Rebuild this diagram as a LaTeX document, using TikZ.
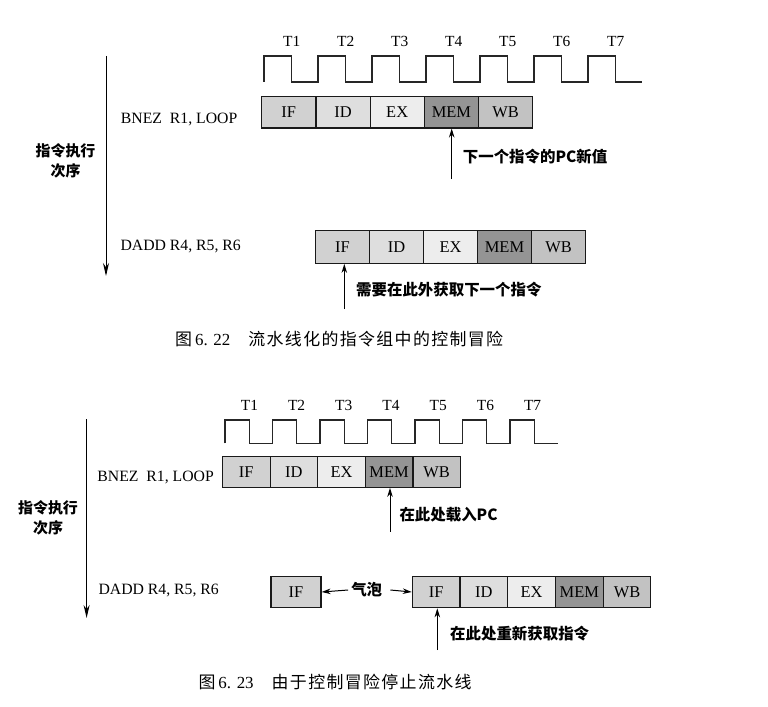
\documentclass[tikz,border=0pt]{standalone}
\usepackage{fontspec}
\setmainfont{Liberation Serif}
\newfontfamily\cjk{Noto Sans CJK SC}
\newfontfamily\capcjk[LetterSpace=8]{Noto Sans CJK SC}
\usetikzlibrary{arrows.meta}
\definecolor{cIF}{gray}{0.82}
\definecolor{cID}{gray}{0.87}
\definecolor{cEX}{gray}{0.93}
\definecolor{cMEM}{gray}{0.58}
\definecolor{cWB}{gray}{0.76}

\begin{document}
\begin{tikzpicture}[x=1bp,y=-1bp,>={Stealth[length=9bp,width=5.5bp]},
  stage/.style={draw=black!90,line width=1.2bp,inner sep=0pt,font=\fontsize{16.5}{16.5}\selectfont},
  clk/.style={line width=1.1bp,draw=black!85},
  tlbl/.style={font=\fontsize{15.5}{16}\selectfont,inner sep=0pt,anchor=base},
  instr/.style={font=\fontsize{15.8}{16}\selectfont,anchor=east,inner sep=0pt},
  note/.style={font=\cjk\bfseries\fontsize{15.5}{16}\selectfont,anchor=west,inner sep=0pt},
  order/.style={font=\cjk\bfseries\fontsize{15}{20}\selectfont,align=center,inner sep=0pt},
  figcap/.style={font=\fontsize{17}{17}\selectfont,anchor=west,inner sep=0pt},
  axis/.style={line width=1bp,-{Stealth[length=13bp,width=6bp]}},
  pc/.style={->,line width=1bp}]
  \fill[white] (0,0) rectangle (768,707);
  \useasboundingbox (0,0) rectangle (768,707);

  % ---------- figure 6.22 ----------
  \draw[clk] (264,82) \foreach \k in {0,...,6} { -- ++(0,-26) -- ++(27.5,0) -- ++(0,26) -- ++(26.5,0) };
  \foreach \k in {1,...,7}
    \node[tlbl] (ta\k) at (291.7+54*\k-54,46.3) {T\k};

  \foreach \s [count=\k from 0] in {IF,ID,EX,MEM,WB}
    \node[stage,fill=c\s,minimum width=54.2bp,minimum height=31.3bp] (a\s) at (288.8+54.2*\k,112.3) {\s};
  \foreach \s [count=\k from 0] in {IF,ID,EX,MEM,WB}
    \node[stage,fill=c\s,minimum width=54bp,minimum height=32.6bp] (b\s) at (342.5+54*\k,247) {\s};

  \node[instr] (ia) at (237.5,119) {BNEZ\ \ R1, LOOP};
  \node[instr] (ib) at (241,246) {DADD R4, R5, R6};

  \coordinate (ordA) at (106,56);
  \coordinate (ordB) at (106,276);
  \draw[axis] (ordA) -- (ordB);
  \node[order] (oa) at (65.5,160.5) {指令执行\\次序};

  \coordinate (pa) at (451.7,179);
  \draw[pc] (pa) -- (pa |- aMEM.south);
  \node[note] (na) at (462.7,157) {下一个指令的PC新值};
  \coordinate (pb) at (344.3,309);
  \draw[pc] (pb) -- (pb |- bIF.south);
  \node[note] (nb) at (356,290) {需要在此外获取下一个指令};

  \node[figcap] (capa) at (175,339.3) {{\capcjk 图}\hspace{3bp}6.\,\,22\hspace{18bp}{\capcjk 流水线化的指令组中的控制冒险}};

  % ---------- figure 6.23 ----------
  \draw[clk] (225,443.3) \foreach \k in {0,...,6} { -- ++(0,-23.3) -- ++(24.2,0) -- ++(0,23.3) -- ++(23.3,0) };
  \foreach \k in {1,...,7}
    \node[tlbl] (tb\k) at (249.4+47.2*\k-47.2,410.3) {T\k};

  \foreach \s [count=\k from 0] in {IF,ID,EX,MEM,WB}
    \node[stage,fill=c\s,minimum width=47.6bp,minimum height=30.6bp] (c\s) at (246.3+47.6*\k,472) {\s};
  \node[stage,fill=cIF,minimum width=50bp,minimum height=31.3bp] (bub) at (296,592) {IF};
  \foreach \s [count=\k from 0] in {IF,ID,EX,MEM,WB}
    \node[stage,fill=c\s,minimum width=47.7bp,minimum height=31.5bp] (d\s) at (436.2+47.7*\k,592) {\s};

  \node[instr] (ic) at (214,477.7) {BNEZ\ \ R1, LOOP};
  \node[instr] (id) at (219,590) {DADD R4, R5, R6};

  \coordinate (ordC) at (86.6,419);
  \coordinate (ordD) at (86.6,618);
  \draw[axis] (ordC) -- (ordD);
  \node[order] (ob) at (48,517.5) {指令执行\\次序};

  \node[note,anchor=center,inner xsep=3bp] (bubtxt) at (366.7,590) {气泡};
  \draw[pc] (bubtxt.west) -- (bub.east);
  \draw[pc] ([xshift=5bp]bubtxt.east) -- (dIF.west);

  \coordinate (pc1) at (390,531.7);
  \draw[pc] (pc1) -- (pc1 |- cMEM.south);
  \node[note] (nc) at (399.3,514.5) {在此处载入PC};
  \coordinate (pd) at (437.3,650);
  \draw[pc] (pd) -- (pd |- dIF.south);
  \node[note] (nd) at (450,633.3) {在此处重新获取指令};

  \node[figcap] (capb) at (198.3,681.7) {{\capcjk 图}\hspace{3bp}6.\,\,23\hspace{18bp}{\capcjk 由于控制冒险停止流水线}};
\end{tikzpicture}
\end{document}
